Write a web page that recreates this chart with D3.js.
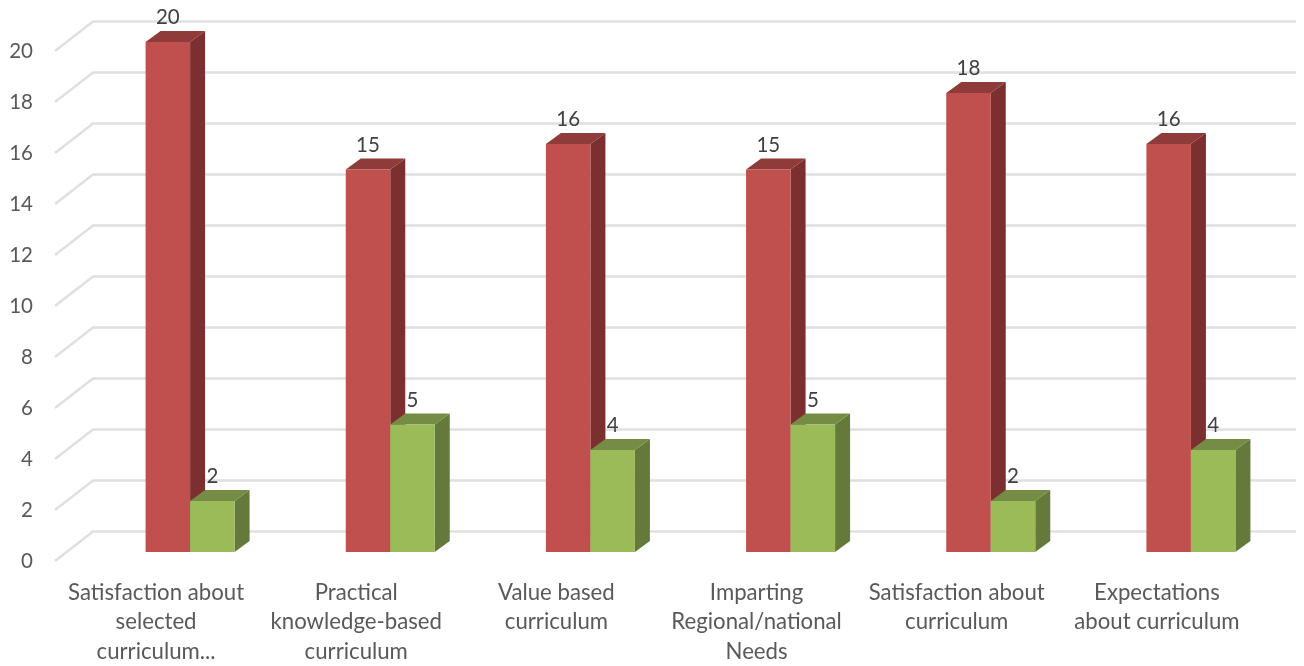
<!DOCTYPE html>
<html>
<head>
<meta charset="utf-8">
<script src="https://cdn.jsdelivr.net/npm/d3@7"></script>
<style>
  html, body { margin: 0; padding: 0; background: #fff; }
  svg { display: block; filter: blur(0.45px); }
  text { font-family: Lato, sans-serif; }
</style>
</head>
<body>
<svg id="chart" width="1304" height="666"></svg>
<script>
const categories = [
    ["Satisfaction about", "selected", "curriculum..."],
    ["Practical", "knowledge-based", "curriculum"],
    ["Value based", "curriculum"],
    ["Imparting", "Regional/national", "Needs"],
    ["Satisfaction about", "curriculum"],
    ["Expectations", "about curriculum"]
];
const redValues = [20, 15, 16, 15, 18, 16];
const greenValues = [2, 5, 4, 5, 2, 4];
const yTicks = [0, 2, 4, 6, 8, 10, 12, 14, 16, 18, 20];
const seriesNames = ["red", "green"];

const colors = {
    red: { front: "#c0504d", top: "#8e3b39", side: "#7b2f2e" },
    green: { front: "#9bbb59", top: "#748c43", side: "#64793a" }
};

const svg = d3.select("#chart");

// y scale is for the front face of the bars
const y = d3.scaleLinear().domain([0, 20]).range([552, 42]);
const x0 = d3.scaleBand().domain(d3.range(categories.length)).range([90, 1291]);
const x1 = d3.scaleBand().domain(seriesNames).range([0, 89]);

// floor depth of the bars and of the grid
const barDx = 15, barDy = -11;
const wallLeft = 93, wallRight = 1296, floorDx = -38, gridBack = -20.5, gridFront = 9;

const grid = svg.append("g");
yTicks.forEach(t => {
    grid.append("polyline")
        .attr("points", [
            [wallLeft + floorDx, y(t) + gridFront],
            [wallLeft, y(t) + gridBack],
            [wallRight, y(t) + gridBack]
        ].join(" "))
        .attr("fill", "none")
        .attr("stroke", "#e0e0e0")
        .attr("stroke-width", 2.6);

    svg.append("text")
        .attr("x", 33)
        .attr("y", y(t) + gridFront)
        .attr("dy", "0.36em")
        .attr("text-anchor", "end")
        .attr("font-size", 20.5)
        .attr("fill", "#595959")
        .text(t);
});

function drawBar(g, name, value, bx) {
    const w = x1.bandwidth();
    const top = y(value), base = y(0);
    const c = colors[name];
    g.append("path")
        .attr("d", `M${bx + w},${top}l${barDx},${barDy}V${base + barDy}l${-barDx},${-barDy}Z`)
        .attr("fill", c.side);
    g.append("path")
        .attr("d", `M${bx},${top}l${barDx},${barDy}h${w}l${-barDx},${-barDy}Z`)
        .attr("fill", c.top);
    g.append("rect")
        .attr("x", bx).attr("y", top)
        .attr("width", w).attr("height", base - top)
        .attr("fill", c.front);
}

const labelLayer = [];
categories.forEach((lines, i) => {
    const g = svg.append("g");
    const vals = { red: redValues[i], green: greenValues[i] };
    seriesNames.forEach(name => {
        const bx = x0(i) + x1(name) + (x0.bandwidth() - x1.range()[1]) / 2;
        drawBar(g, name, vals[name], bx);
        labelLayer.push({ x: bx + x1.bandwidth() / 2, y: y(vals[name]) - 25, v: vals[name] });
    });

    const cx = x0(i) + x0.bandwidth() / 2 - 34;
    lines.forEach((line, k) => {
        svg.append("text")
            .attr("x", cx)
            .attr("y", 592 + k * 29.5)
            .attr("dy", "0.36em")
            .attr("text-anchor", "middle")
            .attr("font-size", 22.2)
            .attr("fill", "#595959")
            .text(line);
    });
});

svg.selectAll(".value")
    .data(labelLayer)
    .enter()
    .append("text")
    .attr("class", "value")
    .attr("x", d => d.x)
    .attr("y", d => d.y)
    .attr("dy", "0.36em")
    .attr("text-anchor", "middle")
    .attr("font-size", 20.5)
    .attr("fill", "#404040")
    .text(d => d.v);
</script>
</body>
</html>
